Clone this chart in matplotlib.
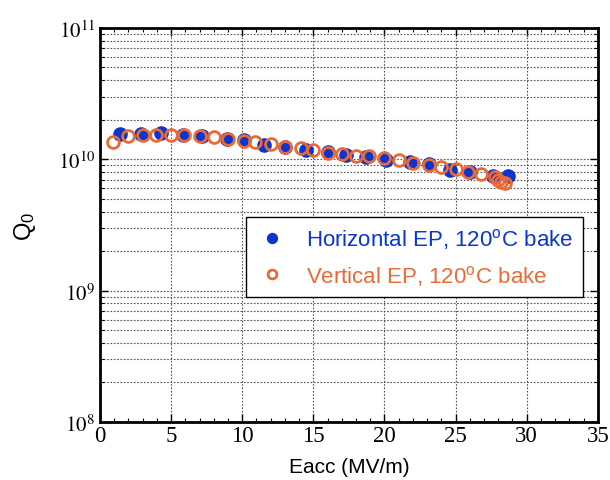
import math
import matplotlib
matplotlib.use("Agg")
import matplotlib.pyplot as plt
from matplotlib.ticker import LogLocator, FuncFormatter, NullFormatter, MultipleLocator

# Horizontal EP, 120C bake
horiz_eacc = [1.4, 2.9, 4.3, 5.8, 7.2, 8.9, 10.1, 11.5, 13.0, 14.5, 16.0, 17.3,
              18.7, 20.1, 21.8, 23.1, 24.6, 26.0, 27.6, 28.7]
horiz_q0 = [1.56e10, 1.56e10, 1.58e10, 1.54e10, 1.49e10, 1.43e10, 1.39e10, 1.29e10,
            1.25e10, 1.18e10, 1.13e10, 1.07e10, 1.04e10, 9.9e9, 9.5e9, 9.2e9,
            8.3e9, 8.05e9, 7.5e9, 7.4e9]

# Vertical EP, 120C bake
vert_eacc = [0.9, 2.0, 3.0, 3.9, 5.0, 5.9, 7.0, 8.0, 9.0, 10.1, 10.9, 12.0, 13.0,
             14.1, 15.0, 16.0, 17.0, 18.0, 18.9, 20.0, 21.0, 22.0, 23.1, 24.0,
             25.0, 25.9, 26.8, 27.8, 28.0, 28.2, 28.5]
vert_q0 = [1.35e10, 1.49e10, 1.53e10, 1.54e10, 1.54e10, 1.53e10, 1.49e10, 1.47e10,
           1.43e10, 1.37e10, 1.35e10, 1.31e10, 1.25e10, 1.21e10, 1.18e10, 1.11e10,
           1.10e10, 1.065e10, 1.05e10, 1.03e10, 9.8e9, 9.4e9, 9.05e9, 8.7e9,
           8.45e9, 8.05e9, 7.7e9, 7.3e9, 7.0e9, 6.75e9, 6.6e9]

blue = "#0a35d0"
orange = "#ea6a35"

plt.rcParams["mathtext.fontset"] = "stix"

fig = plt.figure(figsize=(6.1, 4.81), dpi=100)
ax = fig.add_axes([0.164, 0.1206, 0.816, 0.8194])

ax.plot(horiz_eacc, horiz_q0, "o", color=blue, markersize=9.5, linestyle="none",
        label="Horizontal EP, 120$^\\mathregular{o}$C bake", zorder=3)
ax.plot(vert_eacc, vert_q0, "o", markerfacecolor="none", markeredgecolor=orange,
        markeredgewidth=2, markersize=8.5, linestyle="none",
        label="Vertical EP, 120$^\\mathregular{o}$C bake", zorder=4)

ax.set_yscale("log")
ax.set_xlim(0, 35)
ax.set_ylim(1e8, 1e11)

ax.xaxis.set_major_locator(MultipleLocator(5))
ax.xaxis.set_minor_locator(MultipleLocator(1))
ax.yaxis.set_major_locator(LogLocator(base=10, numticks=10))
ax.yaxis.set_minor_locator(LogLocator(base=10, subs=range(2, 10), numticks=20))
ax.yaxis.set_minor_formatter(NullFormatter())
ax.yaxis.set_major_formatter(FuncFormatter(lambda v, p: r"$10^{%d}$" % round(math.log10(v))))

ax.grid(True, which="major", axis="both", linestyle=(0, (1.5, 1.5)), color="#555555", linewidth=0.8)
ax.grid(True, which="minor", axis="y", linestyle=(0, (1.5, 1.5)), color="#555555", linewidth=0.8)

ax.tick_params(which="both", direction="in", top=True, right=True)
ax.tick_params(which="major", length=6, width=1)
ax.tick_params(which="minor", length=3, width=0.8)
for lab in ax.get_xticklabels():
    lab.set_fontfamily("Liberation Serif")
    lab.set_fontsize(16.5)
ax.tick_params(axis="y", labelsize=15)
ax.tick_params(axis="x", pad=2)

for sp in ax.spines.values():
    sp.set_linewidth(2)

ax.set_xlabel("Eacc (MV/m)", fontsize=15, fontfamily="Liberation Sans", labelpad=8)
ax.set_ylabel(r"Q$_\mathregular{0}$", fontsize=17, fontfamily="Liberation Sans", labelpad=14)

leg = ax.legend(loc="lower right", bbox_to_anchor=(0.97, 0.317), fancybox=False,
                edgecolor="black", framealpha=1, markerscale=0.75,
                prop={"family": "Liberation Sans", "size": 16},
                handlelength=1.5, handletextpad=0.8, borderpad=0.42, labelspacing=0.55,
                borderaxespad=0)
leg.get_frame().set_linewidth(1)
leg.get_texts()[0].set_color(blue)
leg.get_texts()[1].set_color(orange)

fig.savefig("out.png", dpi=100)
